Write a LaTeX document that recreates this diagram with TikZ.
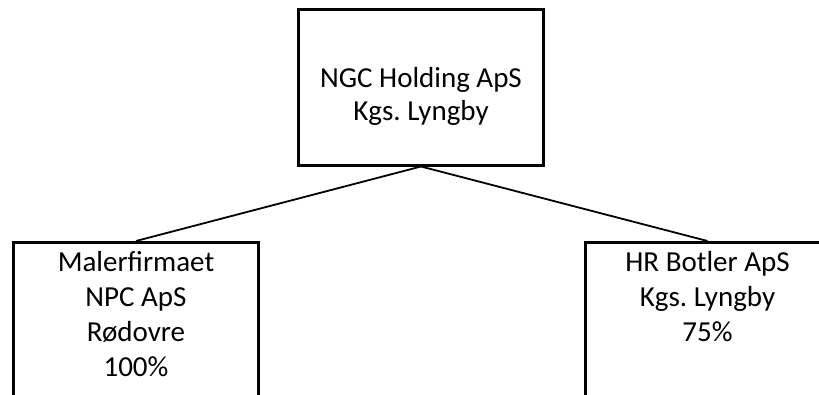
\documentclass[tikz,border=0pt]{standalone}
\usepackage{fontspec}
\setmainfont{Carlito}
\frenchspacing
\begin{document}
\begin{tikzpicture}[x=1pt,y=-1pt,
  box/.style={draw, line width=3pt, inner sep=0pt, minimum width=245pt},
  conn/.style={line width=1.8pt},
  txt/.style={inner sep=0pt, anchor=base, font=\fontsize{29}{35}\selectfont}]
\useasboundingbox (0,0) rectangle (819,394);
\clip (0,0) rectangle (819,394);
\node[box, minimum height=156pt] (top) at (421,87) {};
\node[box, minimum height=200pt] (left) at (136,342.5) {};
\node[box, minimum height=200pt] (right) at (707.5,342.5) {};
\node[txt, font=\fontsize{29}{33}\selectfont\frenchspacing] (ttop) at (421,87) {\begin{tabular}[t]{@{}c@{}}NGC Holding ApS\\Kgs. Lyngby\end{tabular}};
\node[txt] (tleft) at (136,271) {\frenchspacing\begin{tabular}[t]{@{}c@{}}Malerfirmaet\\NPC ApS\\Rødovre\\100\%\end{tabular}};
\node[txt] (tright) at (707.5,271) {\frenchspacing\begin{tabular}[t]{@{}c@{}}HR Botler ApS\\Kgs. Lyngby\\75\%\end{tabular}};
\draw[conn] (top.south) -- (left.north);
\draw[conn] (top.south) -- (right.north);
\end{tikzpicture}
\end{document}
